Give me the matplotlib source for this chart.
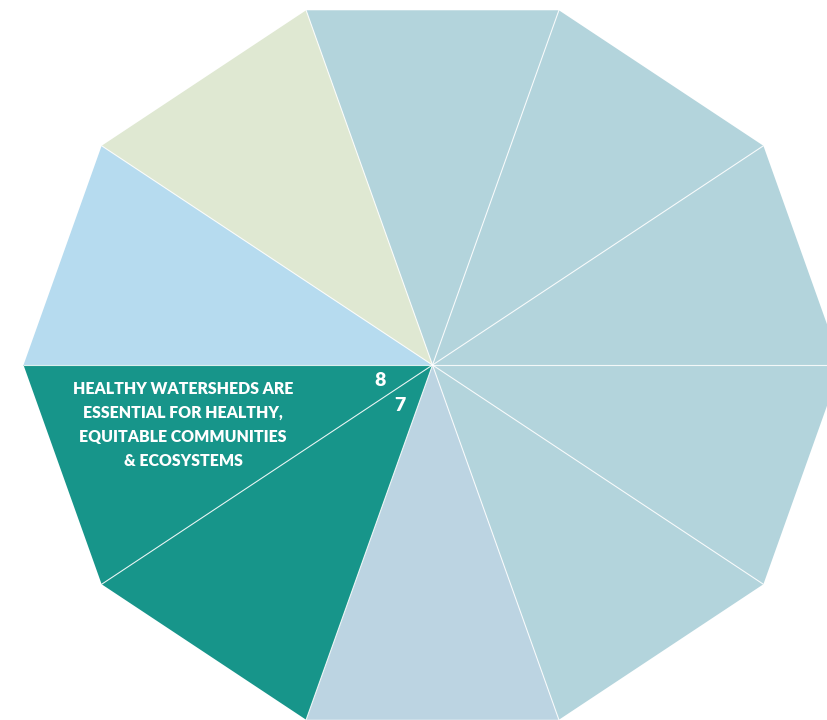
import numpy as np
import matplotlib.pyplot as plt

# segments numbered clockwise starting at the top wedge
segments = [1, 2, 3, 4, 5, 6, 7, 8, 9, 10]
colors = ['#b3d4dc', '#b3d4dc', '#b3d4dc', '#b3d4dc', '#b3d4dc',
          '#bcd4e2', '#17958a', '#17958a', '#b6dbef', '#dfe8d2']
shown_numbers = [7, 8]
caption = ('HEALTHY WATERSHEDS ARE\nESSENTIAL FOR HEALTHY,\n'
           'EQUITABLE COMMUNITIES\n& ECOSYSTEMS')

fig = plt.figure(figsize=(8.27, 7.2), dpi=100)
ax = fig.add_axes([0, 0, 1, 1])

n = len(segments)
step = 360.0 / n
for i, seg in enumerate(segments):
    # segment 1 spans 108..72 deg, going clockwise
    a0 = np.radians(108 - i * step)
    a1 = np.radians(108 - (i + 1) * step)
    xs = [0, np.cos(a0), np.cos(a1)]
    ys = [0, np.sin(a0), np.sin(a1)]
    ax.fill(xs, ys, color=colors[i], lw=0, zorder=1)

# thin white separators
for i in range(n):
    a = np.radians(108 - i * step)
    ax.plot([0, np.cos(a)], [0, np.sin(a)], color='white', lw=0.8,
            alpha=0.85, zorder=2)

for seg in shown_numbers:
    i = segments.index(seg)
    mid = np.radians(108 - (i + 0.5) * step)
    ax.text(np.cos(mid) * 0.135, np.sin(mid) * 0.135, str(seg),
            color='white', fontsize=14, fontweight='heavy', family='Lato',
            ha='center', va='center', zorder=3)

ax.text(-0.61, -0.161, caption, color='white', fontsize=11.4,
        fontweight='heavy', family='Lato', ha='center', va='center',
        linespacing=1.6, zorder=3)

ax.set_xlim(-1.0575, 0.9645)
ax.set_ylim(-0.9517, 0.9786)
ax.axis('off')
fig.savefig('out.png', dpi=100, facecolor='white')
